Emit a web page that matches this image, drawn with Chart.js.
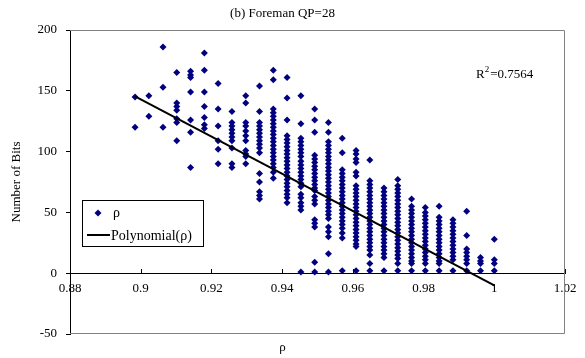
<!DOCTYPE html>
<html lang="en">
<head>
<meta charset="UTF-8">
<title>Foreman QP=28</title>
<script src="https://cdn.jsdelivr.net/npm/chart.js"></script>
<style>
    html, body { margin: 0; padding: 0; background: #fff; }
    #wrap { position: relative; width: 585px; height: 358px; }
</style>
</head>
<body>
<div id="wrap"><canvas id="rhoChart"></canvas></div>
<script>
// rho columns (k/256) and the bit counts
const rhoValues = [0.8984, 0.9023, 0.9063, 0.9102, 0.9141, 0.9180, 0.9219, 0.9258, 0.9297,
                   0.9336, 0.9375, 0.9414, 0.9453, 0.9492, 0.9531, 0.9570, 0.9609, 0.9648,
                   0.9688, 0.9727, 0.9766, 0.9805, 0.9844, 0.9883, 0.9922, 0.9961, 1.0];
const bitsAtRho = [
    [145, 120],
    [146, 129],
    [186, 153, 120],
    [165, 140, 137, 134, 127, 124, 109],
    [166, 163, 161, 149, 126, 116, 87],
    [181, 167, 149, 137, 128, 122, 119],
    [156, 135, 121, 109, 102, 90],
    [133, 124, 121, 118, 115, 112, 109, 103, 90, 87],
    [146, 140, 124, 121, 117, 113, 109, 101, 98, 96, 90],
    [154, 133, 124, 121, 118, 115, 112, 109, 106, 103, 99, 82, 75, 67, 64, 61],
    [167, 159, 135, 132, 129, 126, 123, 120, 117, 114, 111, 108, 105, 102, 99, 96, 93, 90, 87, 83, 78],
    [161, 144, 126, 113, 110, 107, 104, 101, 98, 95, 92, 89, 86, 83, 80, 77, 74, 71, 68, 65, 62, 58],
    [146, 123, 111, 108, 105, 102, 99, 96, 92, 89, 86, 83, 80, 77, 74, 71, 65, 62, 58, 55, 52, 1],
    [135, 126, 116, 97, 94, 91, 88, 85, 82, 79, 76, 73, 70, 68, 63, 60, 57, 44, 41, 38, 9, 1],
    [124, 116, 108, 105, 102, 99, 96, 93, 90, 87, 84, 81, 78, 75, 72, 69, 66, 63, 60, 57, 54, 51, 48, 45, 38, 34, 30, 16, 1],
    [111, 99, 85, 82, 79, 76, 73, 70, 67, 64, 61, 58, 55, 52, 49, 46, 43, 40, 37, 33, 29, 2],
    [101, 98, 94, 91, 83, 80, 72, 69, 66, 63, 60, 57, 54, 51, 48, 45, 42, 39, 36, 33, 30, 27, 24, 22, 2],
    [93, 76, 73, 70, 67, 64, 61, 58, 55, 52, 49, 46, 43, 40, 37, 34, 31, 28, 25, 22, 19, 15, 8, 2],
    [70, 67, 64, 61, 58, 55, 52, 49, 46, 43, 40, 37, 34, 31, 28, 25, 22, 19, 16, 13, 2],
    [77, 72, 69, 66, 63, 60, 57, 54, 51, 48, 45, 42, 39, 36, 33, 30, 27, 24, 21, 18, 15, 12, 8, 2],
    [61, 55, 52, 49, 46, 43, 40, 37, 34, 31, 28, 25, 22, 19, 16, 13, 10, 8, 2],
    [54, 50, 47, 44, 41, 38, 35, 32, 29, 26, 23, 20, 17, 14, 11, 8, 2],
    [55, 46, 43, 40, 37, 34, 31, 28, 25, 22, 19, 16, 13, 10, 8, 2],
    [44, 41, 38, 35, 32, 29, 26, 23, 20, 17, 14, 11, 2],
    [51, 31, 20, 17, 14, 11, 8, 2],
    [13, 10, 8, 2],
    [28, 11, 8, 2]
];
// trend line end points
const trendRho = [0.8984, 1.0];
const trendBits = [145.5, -10];
const xTicks = [0.88, 0.9, 0.92, 0.94, 0.96, 0.98, 1, 1.02];
const yTicks = [-50, 0, 50, 100, 150, 200];
const rSquared = '0.7564';

const serif = "'Liberation Serif', 'DejaVu Serif', serif";

const points = [];
rhoValues.forEach((r, i) => {
    bitsAtRho[i].forEach(b => points.push({ x: r, y: b }));
});
const trendPoints = trendRho.map((r, i) => ({ x: r, y: trendBits[i] }));

// frame, x ticks above the zero line, legend box and R^2 label
const extras = {
    id: 'extras',
    beforeDatasetsDraw(chart) {
        const { ctx, chartArea: a } = chart;
        ctx.save();
        ctx.strokeStyle = '#808080';
        ctx.lineWidth = 1;
        ctx.beginPath();
        ctx.moveTo(a.left, a.top + 0.5);
        ctx.lineTo(a.right - 0.5, a.top + 0.5);
        ctx.lineTo(a.right - 0.5, a.bottom - 0.5);
        ctx.lineTo(a.left, a.bottom - 0.5);
        ctx.stroke();
        const xs = chart.scales.x;
        const y0 = Math.round(chart.scales.y.getPixelForValue(0));
        ctx.strokeStyle = '#000';
        xTicks.forEach(v => {
            const px = Math.round(xs.getPixelForValue(v)) + 0.5;
            ctx.beginPath();
            ctx.moveTo(px, y0 - 4);
            ctx.lineTo(px, y0);
            ctx.stroke();
        });
        ctx.restore();
    },
    afterDraw(chart) {
        const { ctx, chartArea: a } = chart;
        const ds = chart.data.datasets;
        ctx.save();
        // legend
        const lx = a.left + 12, ly = a.top + 170;
        ctx.fillStyle = '#fff';
        ctx.fillRect(lx, ly, 121, 46);
        ctx.strokeStyle = '#000';
        ctx.lineWidth = 1;
        ctx.strokeRect(lx + 0.5, ly + 0.5, 121, 46);
        ctx.fillStyle = ds[1].backgroundColor;
        ctx.beginPath();
        ctx.moveTo(lx + 16, ly + 9.5);
        ctx.lineTo(lx + 19.5, ly + 13);
        ctx.lineTo(lx + 16, ly + 16.5);
        ctx.lineTo(lx + 12.5, ly + 13);
        ctx.closePath();
        ctx.fill();
        ctx.fillStyle = '#000';
        ctx.font = '14px ' + serif;
        ctx.textBaseline = 'middle';
        ctx.fillText(ds[1].label, lx + 31, ly + 13);
        ctx.strokeStyle = ds[0].borderColor;
        ctx.lineWidth = 2;
        ctx.beginPath();
        ctx.moveTo(lx + 5, ly + 35);
        ctx.lineTo(lx + 28, ly + 35);
        ctx.stroke();
        ctx.fillText(ds[0].label, lx + 29, ly + 36);
        // R^2
        const rx = a.right - 89, rb = a.top + 48;
        ctx.textBaseline = 'alphabetic';
        ctx.font = '13px ' + serif;
        ctx.fillText('R', rx, rb);
        let w = ctx.measureText('R').width;
        ctx.font = '9px ' + serif;
        ctx.fillText('2', rx + w, rb - 6);
        w += ctx.measureText('2').width + 1;
        ctx.font = '13px ' + serif;
        ctx.fillText('=' + rSquared, rx + w, rb);
        ctx.restore();
    }
};

new Chart(document.getElementById('rhoChart'), {
    type: 'scatter',
    data: {
        datasets: [{
            label: 'Polynomial(ρ)',
            data: trendPoints,
            showLine: true,
            borderColor: '#000',
            borderWidth: 2,
            pointRadius: 0,
            order: 0
        }, {
            label: 'ρ',
            data: points,
            backgroundColor: '#000080',
            borderColor: '#000080',
            pointStyle: 'rectRot',
            pointRadius: 3.5,
            pointBorderWidth: 0,
            order: 1
        }]
    },
    options: {
        responsive: true,
        maintainAspectRatio: false,
        animation: false,
        devicePixelRatio: 1,
        layout: { padding: { left: 0, right: 20, top: 0, bottom: 0 } },
        plugins: {
            legend: { display: false },
            tooltip: { enabled: false },
            title: {
                display: true,
                text: '(b) Foreman QP=28',
                color: '#000',
                font: { family: serif, size: 13, weight: 'normal' },
                padding: { top: 6, bottom: 8.4 }
            },
            subtitle: {
                display: true,
                position: 'bottom',
                text: 'ρ',
                color: '#000',
                font: { family: serif, size: 13, weight: 'normal' },
                padding: { top: 6, bottom: 2.4 }
            }
        },
        scales: {
            x: {
                type: 'linear',
                min: 0.88,
                max: 1.02,
                position: { y: 0 },
                afterBuildTicks: s => { s.ticks = xTicks.map(v => ({ value: v })); },
                ticks: {
                    color: '#000',
                    font: { family: serif, size: 13 },
                    padding: 8,
                    maxRotation: 0,
                    autoSkip: false,
                    callback: v => String(+v.toFixed(2))
                },
                grid: { display: false, drawTicks: false },
                border: { display: true, color: '#000', width: 1 }
            },
            y: {
                type: 'linear',
                min: -50,
                max: 200,
                afterBuildTicks: s => { s.ticks = yTicks.map(v => ({ value: v })); },
                afterFit: s => { s.width = 70; },
                ticks: { color: '#000', font: { family: serif, size: 13 }, padding: 9 },
                grid: { drawOnChartArea: false, drawTicks: true, tickLength: 4, color: '#000' },
                border: { display: true, color: '#000', width: 1 },
                title: {
                    display: true,
                    text: 'Number of Bits',
                    color: '#000',
                    font: { family: serif, size: 13 },
                    padding: { top: 9, bottom: 0 }
                }
            }
        }
    },
    plugins: [extras]
});
</script>
</body>
</html>
